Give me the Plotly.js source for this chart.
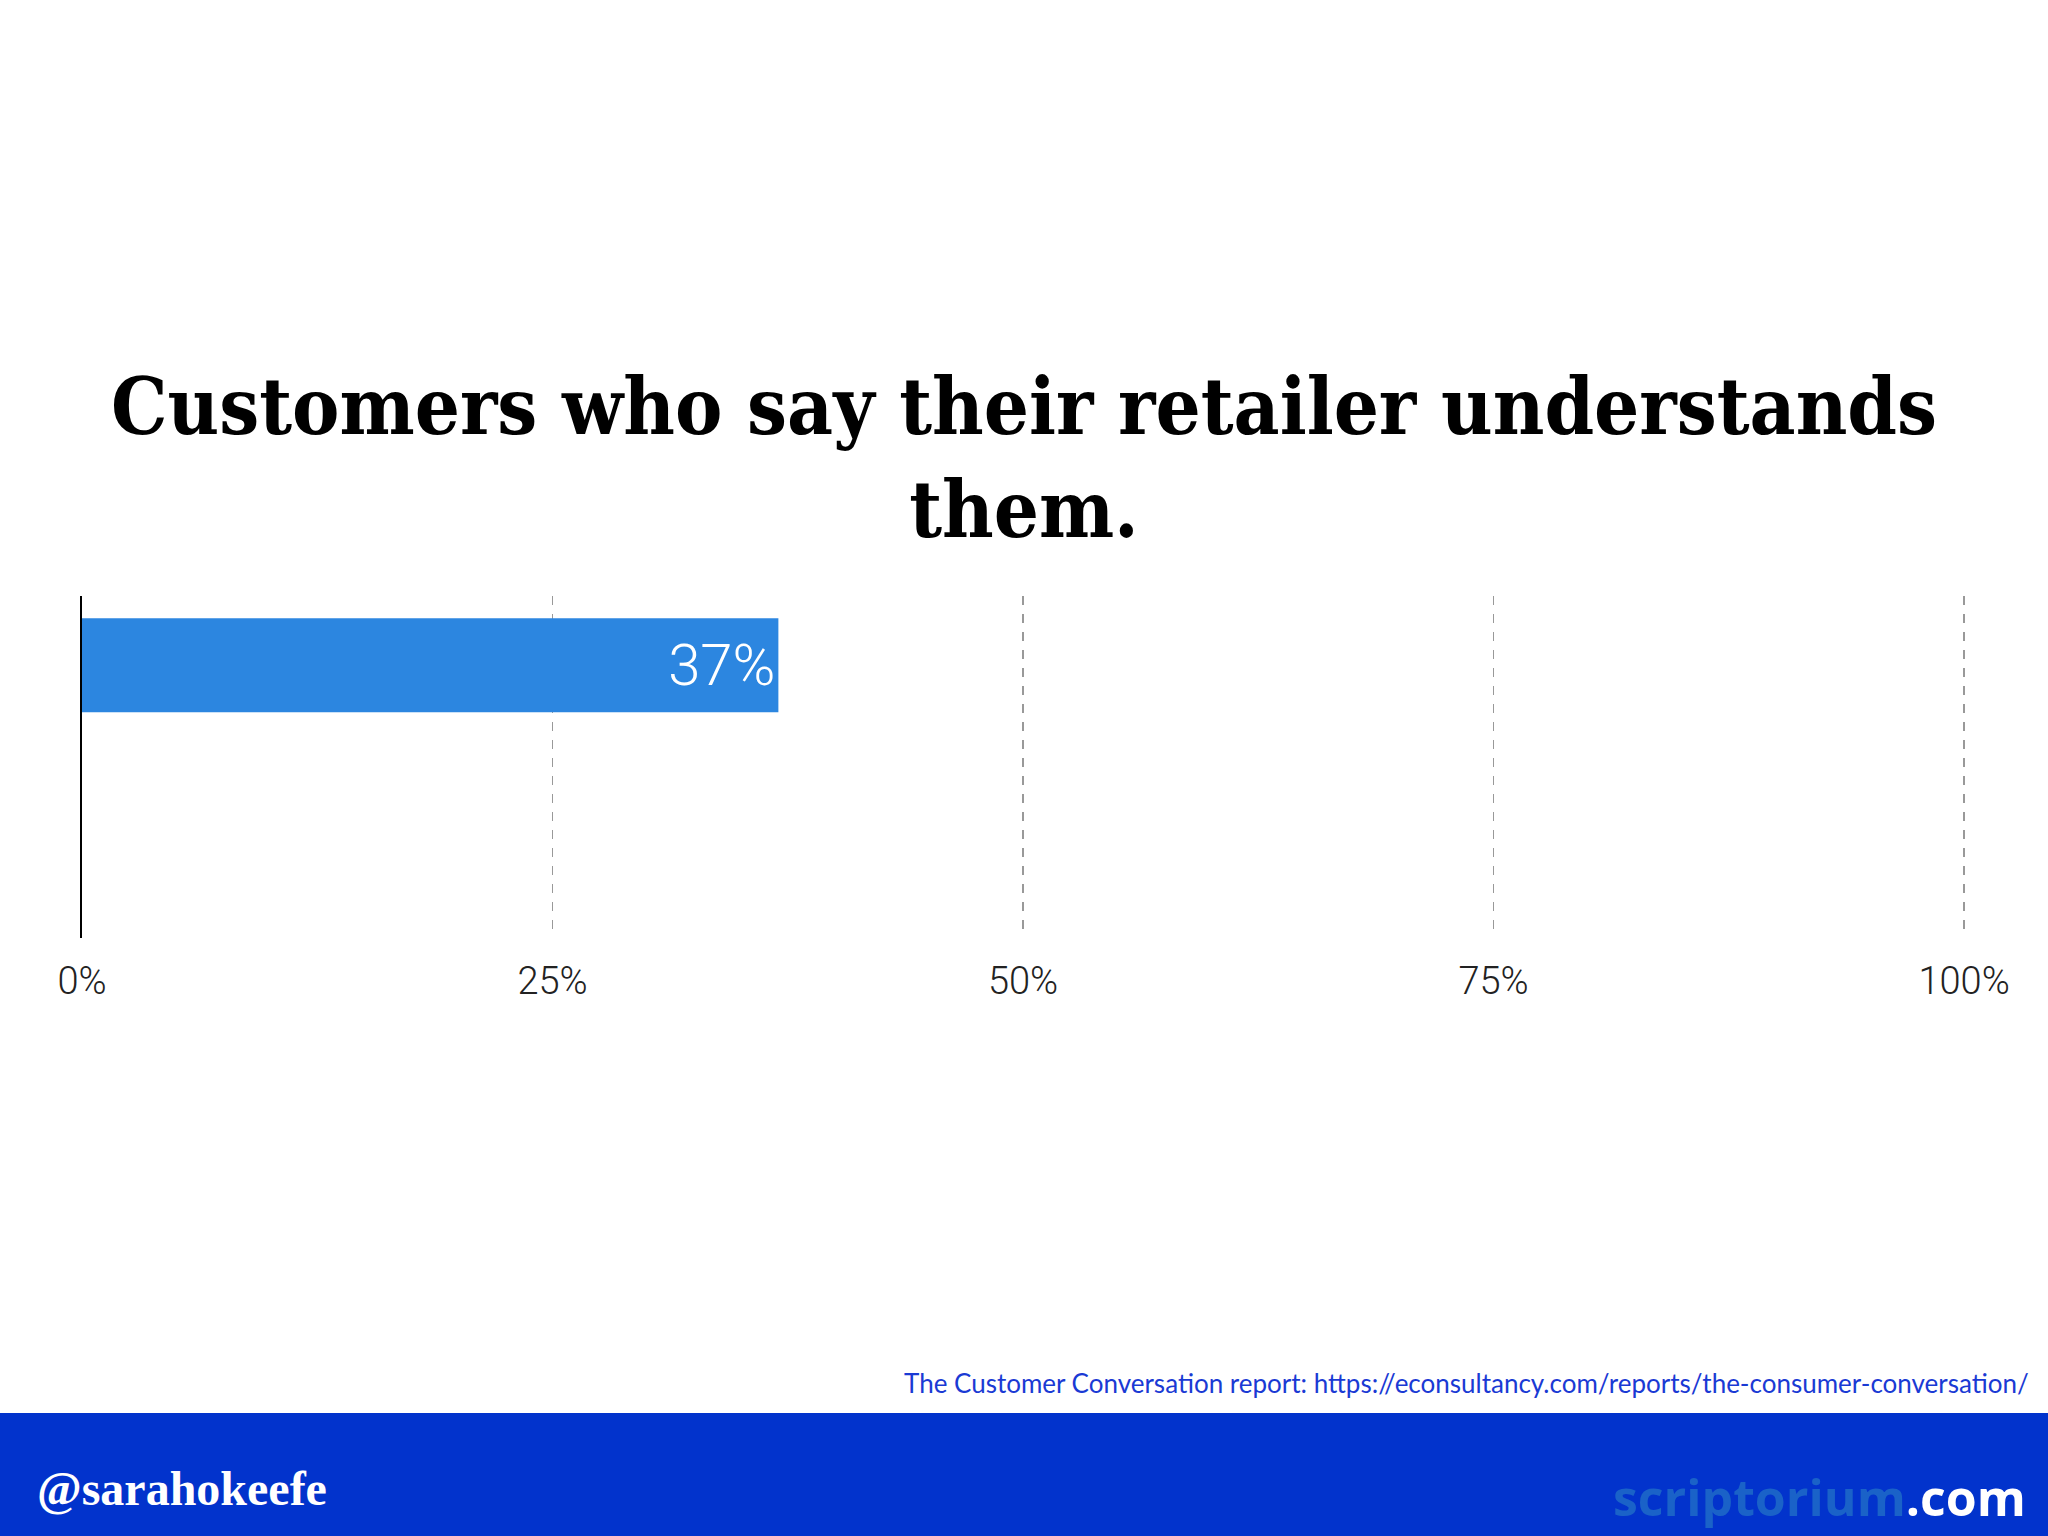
<!DOCTYPE html>
<html>
<head>
<meta charset="utf-8">
<script src="https://cdn.plot.ly/plotly-3.0.1.min.js"></script>
<style>
  html, body { margin: 0; padding: 0; background: #ffffff; }
  #chart { width: 2048px; height: 1536px; }
</style>
</head>
<body>
<div id="chart"></div>
<script>
// ---- data ----
const categories = ["Customers who say their retailer understands them"];
const values = [37];
const tickValues = [0, 25, 50, 75, 100];
const tickLabels = ["0%", "25%", "50%", "75%", "100%"];
const titleText = "Customers who say their retailer understands<br>them.";
const sourceText = "The Customer Conversation report: https://econsultancy.com/reports/the-consumer-conversation/";
const handleText = "@sarahokeefe";
const siteName = "scriptorium";
const siteTld = ".com";

const trace = {
  type: "bar",
  orientation: "h",
  x: values,
  y: [0],
  width: 0.8,
  marker: { color: "#2c86e0", line: { width: 0 } },
  text: values.map(v => v + "%"),
  textposition: "inside",
  insidetextanchor: "end",
  textfont: { family: "Roboto, 'Liberation Sans', sans-serif", size: 58, color: "#ffffff", weight: 300 },
  hoverinfo: "skip",
  cliponaxis: false
};

const layout = {
  width: 2048,
  height: 1536,
  paper_bgcolor: "#ffffff",
  plot_bgcolor: "#ffffff",
  showlegend: false,
  margin: { l: 82, r: 82, t: 596, b: 598, pad: 0 },
  title: {
    text: titleText,
    font: { family: "'DejaVu Serif Condensed', 'DejaVu Serif', serif", size: 79, color: "#000000", weight: "bold" },
    x: 0.5,
    xref: "paper",
    xanchor: "center",
    yref: "container",
    y: 1 - 434 / 1536,
    yanchor: "top"
  },
  xaxis: {
    range: [0, 100.1],
    tickmode: "array",
    tickvals: tickValues,
    ticktext: tickLabels,
    showgrid: true,
    gridcolor: "#999999",
    gridwidth: 1.5,
    griddash: "dash",
    zeroline: false,
    showline: false,
    ticks: "",
    tickfont: { family: "Roboto, 'Liberation Sans', sans-serif", size: 38, color: "#222222", weight: 300 },
    ticklabelstandoff: 17,
    fixedrange: true
  },
  yaxis: {
    range: [-2.32, 0.59],
    showgrid: false,
    zeroline: false,
    showticklabels: false,
    showline: true,
    linecolor: "#000000",
    linewidth: 2,
    ticks: "",
    fixedrange: true
  },
  shapes: [
    {
      type: "rect", xref: "paper", yref: "paper",
      x0: -82 / 1884, x1: (2048 - 82) / 1884,
      y0: -(1536 - 938) / 342, y1: -(1413 - 938) / 342,
      fillcolor: "#0233cc", line: { width: 0 }, layer: "below"
    }
  ],
  annotations: [
    {
      text: sourceText,
      xref: "paper", yref: "paper",
      x: (2031 - 82) / 1884, y: -(1401 - 938) / 342,
      xanchor: "right", yanchor: "bottom",
      showarrow: false,
      font: { family: "Lato, 'Open Sans', sans-serif", size: 26, color: "#1a3ad4" }
    },
    {
      text: "<b>" + handleText + "</b>",
      xref: "paper", yref: "paper",
      x: (35 - 82) / 1884, y: -(1517 - 938) / 342,
      xanchor: "left", yanchor: "bottom",
      showarrow: false,
      font: { family: "'Liberation Serif', serif", size: 48, color: "#ffffff" }
    },
    {
      text: "<b><span style='color:#1a62c8'>" + siteName + "</span>" + siteTld + "</b>",
      xref: "paper", yref: "paper",
      x: (2028 - 82) / 1884, y: -(1533 - 938) / 342,
      xanchor: "right", yanchor: "bottom",
      showarrow: false,
      font: { family: "'Open Sans', 'DejaVu Sans', sans-serif", size: 50, color: "#ffffff" }
    }
  ]
};

Plotly.newPlot("chart", [trace], layout, { staticPlot: true, displayModeBar: false });
</script>
</body>
</html>
